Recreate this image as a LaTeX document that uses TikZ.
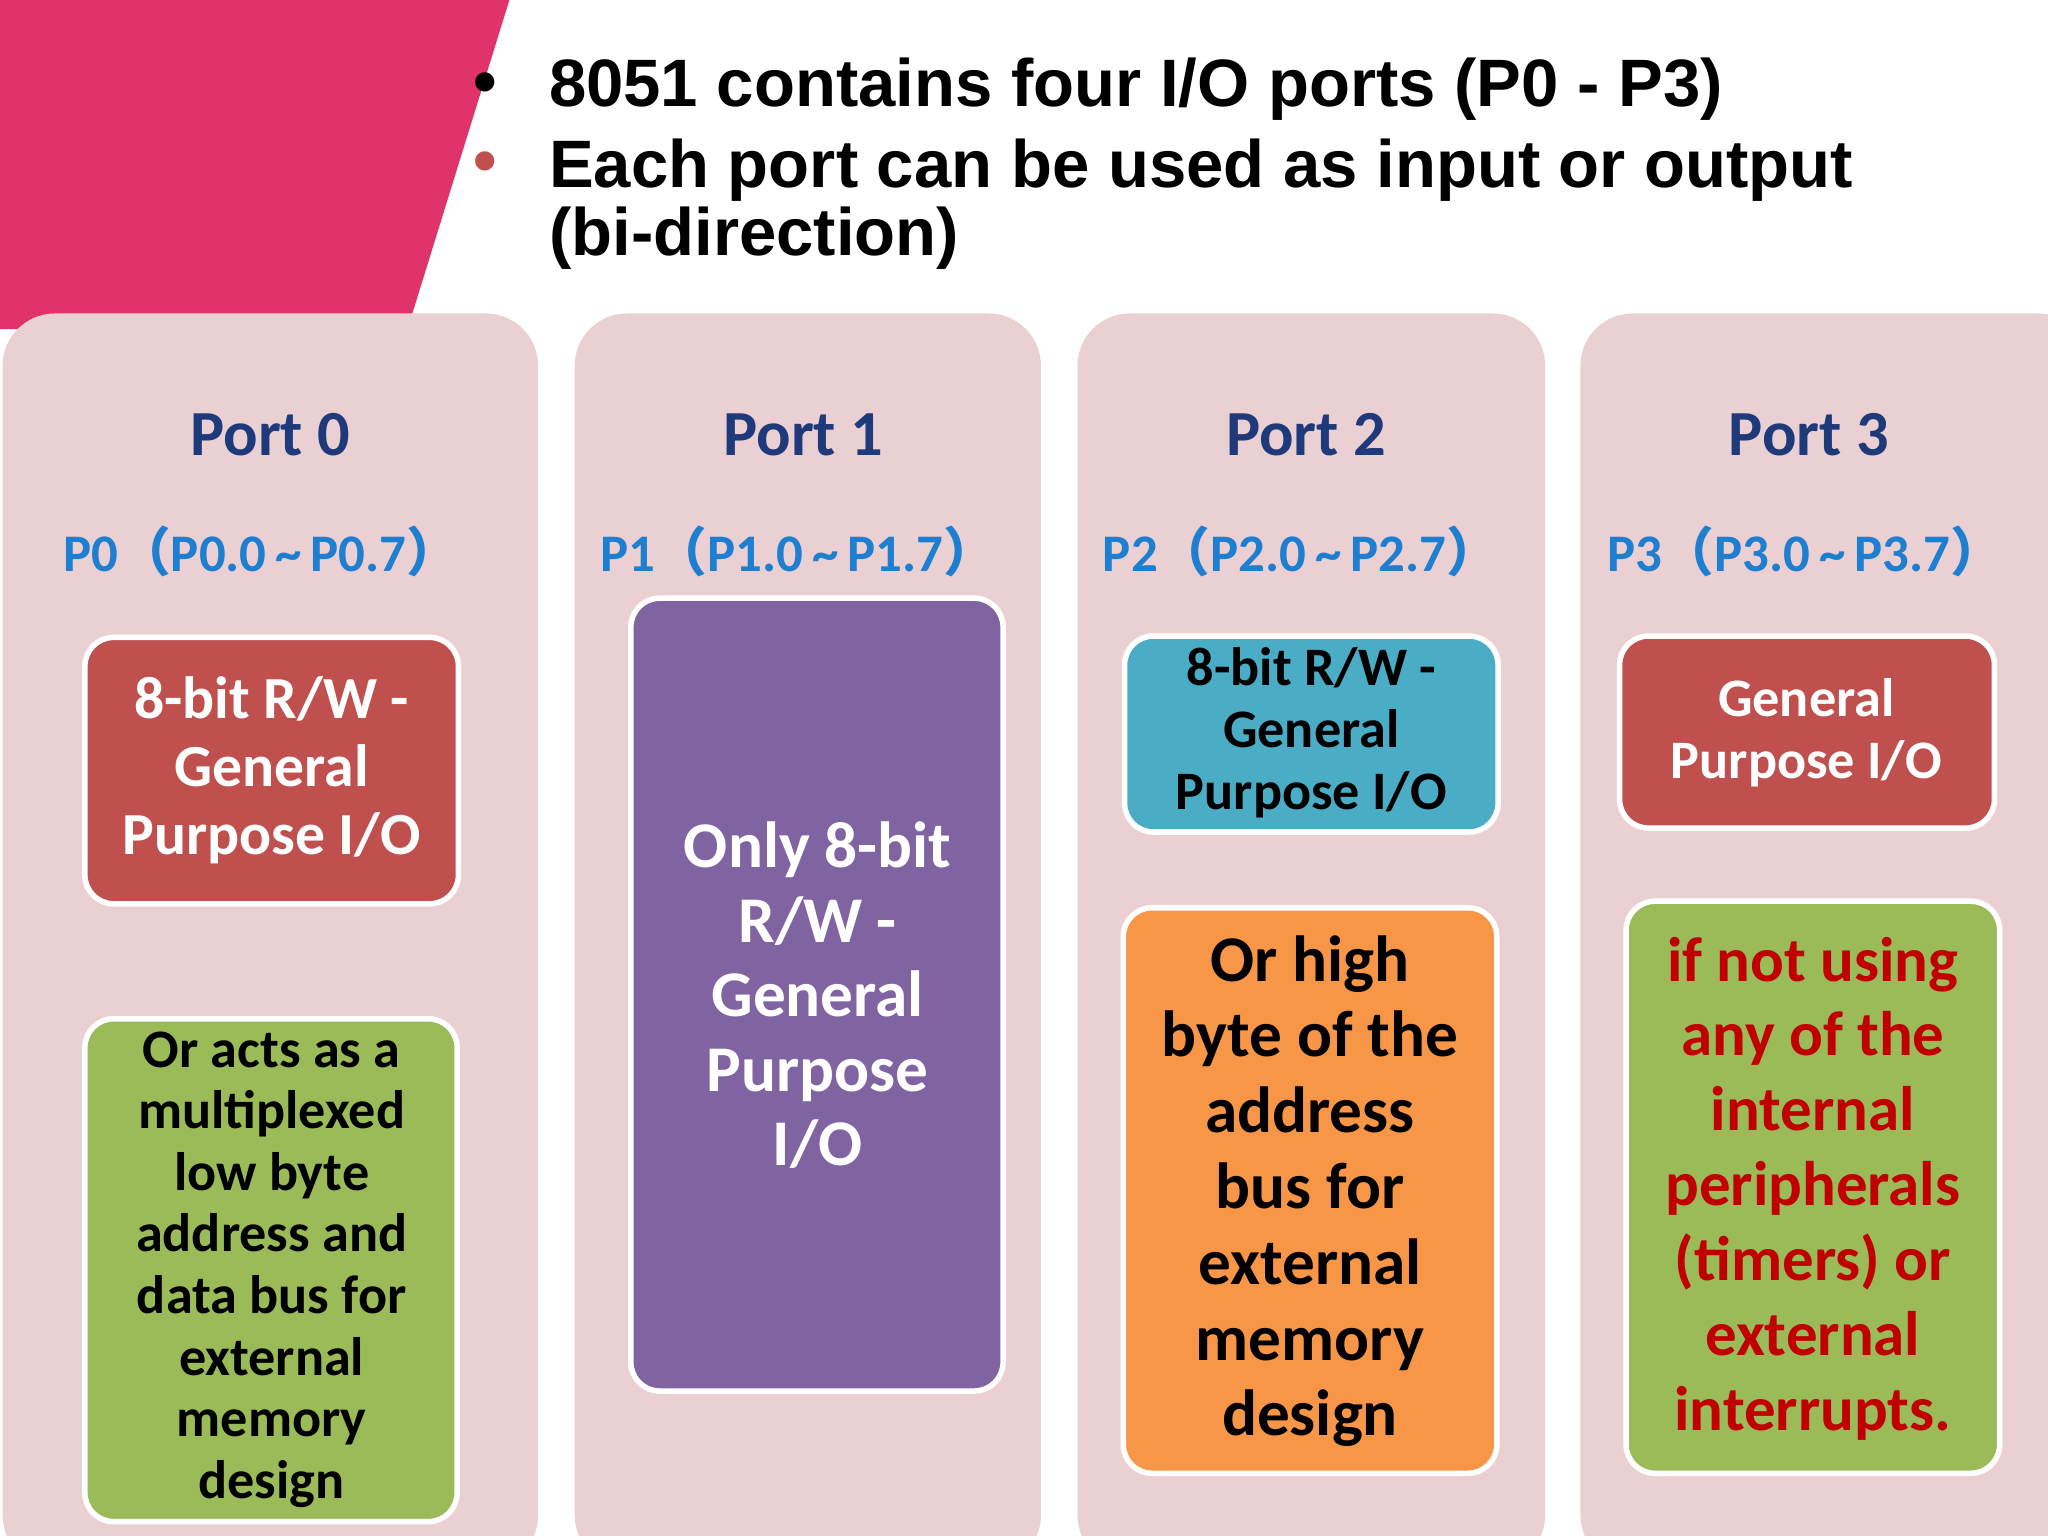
\documentclass[tikz,border=0pt]{standalone}
\usepackage{fontspec}
\setmainfont{Carlito}
\newfontfamily\arialf{Liberation Sans}
\newfontfamily\cjk{Noto Sans CJK SC}
\newcommand{\lp}{{\cjk （}}
\newcommand{\rp}{{\cjk ）}}
\definecolor{panel}{HTML}{EBD0D3}
\definecolor{pinkbar}{HTML}{E0336A}
\definecolor{redbox}{HTML}{C0504D}
\definecolor{greenbox}{HTML}{9BBB59}
\definecolor{purplebox}{HTML}{8064A2}
\definecolor{bluebox}{HTML}{4BACC6}
\definecolor{orangebox}{HTML}{F79646}
\definecolor{titleblue}{HTML}{1F3A7A}
\definecolor{subblue}{HTML}{1E7FD0}
\definecolor{darkred}{HTML}{C00000}
\begin{document}
\begin{tikzpicture}[x=0.01cm,y=-0.01cm,
 cbox/.style={draw=white,line width=1.2pt,rounded corners=0.22cm},
 ptitle/.style={text=titleblue,font=\bfseries\fontsize{14}{16}\selectfont},
 psub/.style={text=subblue,font=\bfseries\fontsize{11.5}{13}\selectfont},
 btext/.style={align=center,font=\bfseries\fontsize{13}{14.8}\selectfont},
 htext/.style={anchor=west,font=\arialf\bfseries\fontsize{14.6}{14.6}\selectfont}]
\useasboundingbox (0,0) rectangle (1568,1176);
\fill[white] (0,0) rectangle (1568,1176);
\fill[pinkbar] (0,0) -- (390,0) -- (312,252) -- (0,252) -- cycle;
\fill[panel,rounded corners=0.4cm] (2,240) rectangle (412,1200);
\fill[panel,rounded corners=0.4cm] (440,240) rectangle (797,1200);
\fill[panel,rounded corners=0.4cm] (825,240) rectangle (1183,1200);
\fill[panel,rounded corners=0.4cm] (1210,240) rectangle (1600,1200);
\node[htext] (b1) at (350,68) {•};
\node[htext,text=redbox] (b2) at (350,128) {•};
\node[htext] (t1) at (408,68) {8051 contains four I/O ports (P0 - P3)};
\node[htext] (t2) at (408,130) {Each port can be used as input or output};
\node[htext] (t3) at (408,182) {(bi-direction)};
\node[ptitle] (p0) at (207,333) {Port 0};
\node[ptitle] (p1) at (615,333) {Port 1};
\node[ptitle] (p2) at (1000,333) {Port 2};
\node[ptitle] (p3) at (1385,333) {Port 3};
\node[psub] (s0) at (200,422) {P0\lp P0.0\,\textasciitilde\,P0.7\rp};
\node[psub] (s1) at (611,422) {P1\lp P1.0\,\textasciitilde\,P1.7\rp};
\node[psub] (s2) at (996,422) {P2\lp P2.0\,\textasciitilde\,P2.7\rp};
\node[psub] (s3) at (1382,422) {P3\lp P3.0\,\textasciitilde\,P3.7\rp};
\draw[cbox,fill=redbox] (65,488) rectangle (351,692);
\node[btext,text=white] (r0) at (208,590) {8-bit R/W -\\General\\Purpose I/O};
\draw[cbox,fill=greenbox] (65,780) rectangle (350,1165);
\node[btext,font=\bfseries\fontsize{11.8}{13.4}\selectfont] (g0) at (208,972) {Or acts as a\\multiplexed\\low byte\\address and\\data bus for\\external\\memory\\design};
\draw[cbox,fill=purplebox] (483,458) rectangle (768,1065);
\node[btext,text=white,font=\bfseries\fontsize{14.2}{16.2}\selectfont] (u1) at (626,762) {Only 8-bit\\R/W -\\General\\Purpose\\I/O};
\draw[cbox,fill=bluebox] (861,487) rectangle (1147,637);
\node[btext,font=\bfseries\fontsize{11.8}{13.6}\selectfont] (l2) at (1004,561) {8-bit R/W -\\General\\Purpose I/O};
\draw[cbox,fill=orangebox] (860,695) rectangle (1146,1128);
\node[btext,font=\bfseries\fontsize{14.2}{16.5}\selectfont] (o2) at (1003,912) {Or high\\byte of the\\address\\bus for\\external\\memory\\design};
\draw[cbox,fill=redbox] (1240,487) rectangle (1527,634);
\node[btext,text=white,font=\bfseries\fontsize{11.8}{13.6}\selectfont] (r3) at (1383,561) {General\\Purpose I/O};
\draw[cbox,fill=greenbox] (1245,690) rectangle (1531,1128);
\node[btext,text=darkred,font=\bfseries\fontsize{13.7}{16.3}\selectfont] (g3) at (1388,910) {if not using\\any of the\\internal\\peripherals\\(timers) or\\external\\interrupts.};
\end{tikzpicture}
\end{document}
